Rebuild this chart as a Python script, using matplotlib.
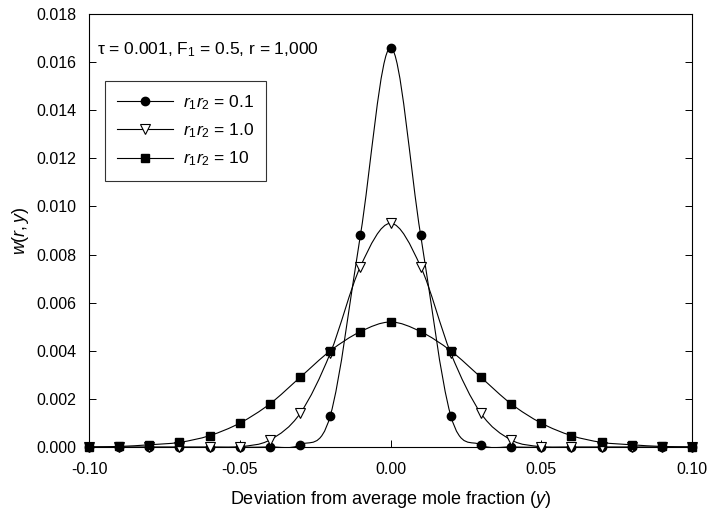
import numpy as np
import matplotlib
matplotlib.use("Agg")
import matplotlib.pyplot as plt
from matplotlib.path import Path
from matplotlib.patches import PathPatch

plt.rcParams['font.family'] = 'Liberation Sans'
plt.rcParams['mathtext.fontset'] = 'custom'
plt.rcParams['mathtext.rm'] = 'Liberation Sans'
plt.rcParams['mathtext.it'] = 'Liberation Sans:italic'
plt.rcParams['axes.unicode_minus'] = False

# deviation y, markers every 0.01
y_dev = np.round(np.arange(-10, 11) * 0.01, 2)

w_01 = [0, 0, 0, 0, 0, 0, 0.00001, 0.0001, 0.0013, 0.0088,
        0.0166,
        0.0088, 0.0013, 0.0001, 0.00001, 0, 0, 0, 0, 0, 0]
w_10 = [0, 0, 0, 0, 0, 0.00002, 0.0003, 0.0014, 0.0039, 0.0075,
        0.0093,
        0.0075, 0.0039, 0.0014, 0.0003, 0.00002, 0, 0, 0, 0, 0]
w_100 = [0.00001, 0.00003, 0.0001, 0.0002, 0.00048, 0.0010, 0.0018, 0.0029, 0.0040, 0.0048,
         0.0052,
         0.0048, 0.0040, 0.0029, 0.0018, 0.0010, 0.00048, 0.0002, 0.0001, 0.00003, 0.00001]

labels = [r'$r_{\mathit{1}}r_{\mathit{2}}$ = 0.1',
          r'$r_{\mathit{1}}r_{\mathit{2}}$ = 1.0',
          r'$r_{\mathit{1}}r_{\mathit{2}}$ = 10']


def smooth_path(x, y):
    # Catmull-Rom style cubic bezier through the data points
    x = np.asarray(x, float)
    y = np.asarray(y, float)
    n = len(x)
    tx = np.gradient(x)
    ty = np.gradient(y)
    verts = [(x[0], y[0])]
    codes = [Path.MOVETO]
    for i in range(n - 1):
        verts.append((x[i] + tx[i] / 3, y[i] + ty[i] / 3))
        verts.append((x[i + 1] - tx[i + 1] / 3, y[i + 1] - ty[i + 1] / 3))
        verts.append((x[i + 1], y[i + 1]))
        codes += [Path.CURVE4] * 3
    return Path(verts, codes)


fig = plt.figure(figsize=(7.12, 5.14), dpi=100)
ax = fig.add_axes([0.125, 0.130, 0.847, 0.843])

styles = [dict(marker='o', mfc='black', mec='black', ms=6),
          dict(marker='v', mfc='white', mec='black', ms=7.5, mew=0.8),
          dict(marker='s', mfc='black', mec='black', ms=6)]

for w, lab, st in zip([w_01, w_10, w_100], labels, styles):
    ax.add_patch(PathPatch(smooth_path(y_dev, w), fill=False, lw=0.8,
                           ec='black', zorder=2))
    ax.plot(y_dev, w, ls='none', zorder=3, clip_on=False, **st)
    # legend handle
    ax.plot([], [], color='black', lw=0.8, label=lab, **st)

ax.set_xlim(-0.10, 0.10)
ax.set_ylim(0, 0.018)
ax.set_xticks([-0.10, -0.05, 0.00, 0.05, 0.10])
ax.set_yticks(np.arange(0, 0.0181, 0.002))
ax.xaxis.set_major_formatter(matplotlib.ticker.FormatStrFormatter('%.2f'))
ax.yaxis.set_major_formatter(matplotlib.ticker.FormatStrFormatter('%.3f'))
ax.tick_params(direction='in', length=5, width=0.7, labelsize=11.5,
               right=True, top=False)
ax.tick_params(axis='x', pad=11)
ax.tick_params(axis='y', pad=9)
for s in ax.spines.values():
    s.set_linewidth(0.8)

ax.set_xlabel('Deviation from average mole fraction ($\\mathit{y}$)',
              fontsize=13, labelpad=8)
ax.set_ylabel('$\\mathit{w(r,y)}$', fontsize=13, labelpad=4)

ax.text(0.013, 0.94, 'τ = 0.001, F$_{\\mathrm{1}}$ = 0.5, r = 1,000',
        transform=ax.transAxes, fontsize=12.5, va='top', ha='left')

leg = ax.legend(loc='upper left', bbox_to_anchor=(0.012, 0.865), numpoints=1,
                fontsize=12.5, frameon=True, fancybox=False, edgecolor='black',
                handlelength=3.2, handletextpad=0.6, borderpad=0.7,
                labelspacing=0.55)
leg.get_frame().set_linewidth(0.8)

fig.savefig('out.png', dpi=100)
